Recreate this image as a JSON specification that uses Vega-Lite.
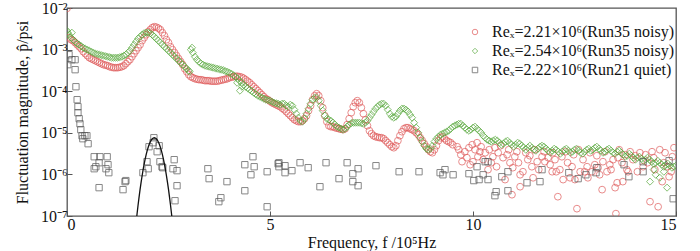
{
 "$schema": "https://vega.github.io/schema/vega-lite/v6.json",
 "width": 609,
 "height": 208,
 "autosize": "none",
 "padding": {"left": 67, "top": 8, "right": 24, "bottom": 35},
 "background": "white",
 "config": {
  "font": "Liberation Serif",
  "view": {"stroke": "#555555", "strokeWidth": 1.3},
  "axis": {"grid": false, "domain": false, "tickColor": "#555555", "tickSize": -5, "labelFont": "Liberation Serif", "labelFontSize": 16, "labelColor": "#111111", "titleFont": "Liberation Serif", "titleFontSize": 16, "titleFontWeight": "normal", "titleColor": "#111111"},
  "legend": {"labelFont": "Liberation Serif", "labelFontSize": 16, "labelColor": "#111111", "labelLimit": 0}
 },
 "datasets": {
  "red": [
   {"f":0.00,"p":9.8e-3},{"f":0.05,"p":1.93e-3},{"f":0.10,"p":1.73e-3},{"f":0.15,"p":1.64e-3},{"f":0.20,"p":1.47e-3},{"f":0.25,"p":1.31e-3},{"f":0.30,"p":1.17e-3},{"f":0.35,"p":1.05e-3},{"f":0.40,"p":8.9e-4},{"f":0.45,"p":7.97e-4},{"f":0.50,"p":7.13e-4},{"f":0.55,"p":6.39e-4},{"f":0.60,"p":6.04e-4},{"f":0.65,"p":5.72e-4},{"f":0.70,"p":5.41e-4},{"f":0.75,"p":5.12e-4},{"f":0.80,"p":4.84e-4},{"f":0.85,"p":4.58e-4},{"f":0.90,"p":4.34e-4},{"f":0.95,"p":4.22e-4},
   {"f":1.00,"p":4.10e-4},{"f":1.05,"p":3.88e-4},{"f":1.10,"p":3.77e-4},{"f":1.15,"p":3.67e-4},{"f":1.20,"p":3.67e-4},{"f":1.25,"p":3.67e-4},{"f":1.30,"p":3.77e-4},{"f":1.35,"p":3.88e-4},{"f":1.40,"p":4.10e-4},{"f":1.45,"p":4.58e-4},{"f":1.50,"p":5.12e-4},{"f":1.55,"p":5.72e-4},{"f":1.60,"p":6.75e-4},{"f":1.65,"p":7.97e-4},{"f":1.70,"p":9.41e-4},{"f":1.75,"p":1.11e-3},{"f":1.80,"p":1.31e-3},{"f":1.85,"p":1.64e-3},{"f":1.90,"p":1.93e-3},{"f":1.95,"p":2.28e-3},
   {"f":2.00,"p":2.69e-3},{"f":2.05,"p":3.01e-3},{"f":2.10,"p":3.36e-3},{"f":2.15,"p":3.55e-3},{"f":2.20,"p":3.46e-3},{"f":2.25,"p":3.27e-3},{"f":2.30,"p":3.01e-3},{"f":2.35,"p":2.55e-3},{"f":2.40,"p":2.16e-3},{"f":2.45,"p":1.73e-3},{"f":2.50,"p":1.47e-3},{"f":2.55,"p":1.17e-3},{"f":2.60,"p":9.95e-4},{"f":2.65,"p":8.42e-4},{"f":2.70,"p":7.13e-4},{"f":2.75,"p":6.04e-4},{"f":2.80,"p":5.12e-4},{"f":2.85,"p":4.34e-4},{"f":2.90,"p":3.47e-4},{"f":2.95,"p":2.94e-4},
   {"f":3.00,"p":2.49e-4},{"f":3.05,"p":2.23e-4},{"f":3.10,"p":2.11e-4},{"f":3.15,"p":2.00e-4},{"f":3.20,"p":1.94e-4},{"f":3.25,"p":1.89e-4},{"f":3.30,"p":1.89e-4},{"f":3.35,"p":1.84e-4},{"f":3.40,"p":1.79e-4},{"f":3.45,"p":1.79e-4},{"f":3.50,"p":1.79e-4},{"f":3.55,"p":1.74e-4},{"f":3.60,"p":1.74e-4},{"f":3.65,"p":1.74e-4},{"f":3.70,"p":1.74e-4},{"f":3.75,"p":1.79e-4},{"f":3.80,"p":1.84e-4},{"f":3.85,"p":1.89e-4},{"f":3.90,"p":1.94e-4},{"f":3.95,"p":2.00e-4},
   {"f":4.00,"p":2.11e-4},{"f":4.05,"p":2.17e-4},{"f":4.10,"p":2.23e-4},{"f":4.15,"p":2.29e-4},{"f":4.20,"p":2.29e-4},{"f":4.25,"p":2.23e-4},{"f":4.30,"p":2.17e-4},{"f":4.35,"p":2.05e-4},{"f":4.40,"p":1.89e-4},{"f":4.45,"p":1.74e-4},{"f":4.50,"p":1.60e-4},{"f":4.55,"p":1.43e-4},{"f":4.60,"p":1.28e-4},{"f":4.65,"p":1.15e-4},{"f":4.70,"p":1.03e-4},{"f":4.75,"p":9.2e-5},{"f":4.80,"p":8.23e-5},{"f":4.85,"p":7.38e-5},{"f":4.90,"p":6.6e-5},{"f":4.95,"p":6.25e-5},
   {"f":5.00,"p":5.75e-5},{"f":5.05,"p":5.29e-5},{"f":5.10,"p":5.01e-5},{"f":5.15,"p":4.74e-5},{"f":5.20,"p":4.48e-5},{"f":5.25,"p":4.24e-5},{"f":5.30,"p":3.90e-5},{"f":5.35,"p":3.59e-5},{"f":5.40,"p":3.22e-5},{"f":5.45,"p":2.88e-5},{"f":5.50,"p":2.58e-5},{"f":5.55,"p":2.31e-5},{"f":5.60,"p":2.07e-5},{"f":5.65,"p":1.95e-5},{"f":5.70,"p":1.85e-5},{"f":5.75,"p":1.85e-5},{"f":5.80,"p":1.95e-5},{"f":5.85,"p":2.18e-5},{"f":5.90,"p":2.58e-5},{"f":5.95,"p":3.40e-5},
   {"f":6.00,"p":4.48e-5},{"f":6.05,"p":6.25e-5},{"f":6.10,"p":7.79e-5},{"f":6.15,"p":8.7e-5},{"f":6.20,"p":7.79e-5},{"f":6.25,"p":5.91e-5},{"f":6.30,"p":4.01e-5},{"f":6.35,"p":2.58e-5},{"f":6.40,"p":1.85e-5},{"f":6.45,"p":1.48e-5},{"f":6.50,"p":1.40e-5},{"f":6.55,"p":1.40e-5},{"f":6.60,"p":1.33e-5},{"f":6.65,"p":1.29e-5},{"f":6.70,"p":1.25e-5},{"f":6.75,"p":1.22e-5},{"f":6.80,"p":1.19e-5},{"f":6.85,"p":1.25e-5},{"f":6.90,"p":1.57e-5},{"f":6.95,"p":2.18e-5},
   {"f":7.00,"p":3.04e-5},{"f":7.05,"p":4.24e-5},{"f":7.10,"p":5.29e-5},{"f":7.15,"p":5.91e-5},{"f":7.20,"p":5.29e-5},{"f":7.25,"p":4.01e-5},{"f":7.30,"p":2.88e-5},{"f":7.35,"p":2.07e-5},{"f":7.40,"p":1.48e-5},{"f":7.45,"p":1.12e-5},{"f":7.50,"p":9.51e-6},{"f":7.55,"p":8.52e-6},{"f":7.60,"p":8.06e-6},{"f":7.65,"p":7.84e-6},{"f":7.70,"p":7.62e-6},{"f":7.75,"p":7.62e-6},{"f":7.80,"p":7.21e-6},{"f":7.85,"p":6.46e-6},{"f":7.90,"p":5.78e-6},{"f":7.95,"p":5.17e-6},
   {"f":8.00,"p":4.63e-6},{"f":8.05,"p":4.38e-6},{"f":8.10,"p":4.89e-6},{"f":8.15,"p":6.46e-6},{"f":8.20,"p":8.52e-6},{"f":8.25,"p":1.06e-5},{"f":8.30,"p":1.25e-5},{"f":8.35,"p":1.33e-5},{"f":8.40,"p":1.33e-5},{"f":8.45,"p":1.25e-5},{"f":8.50,"p":1.19e-5},{"f":8.55,"p":1.12e-5},{"f":8.60,"p":1.005e-5},{"f":8.65,"p":9.0e-6},{"f":8.70,"p":7.62e-6},{"f":8.75,"p":6.46e-6},{"f":8.80,"p":5.47e-6},{"f":8.85,"p":4.63e-6},{"f":8.90,"p":3.92e-6},{"f":8.95,"p":3.51e-6},
   {"f":9.00,"p":3.32e-6},{"f":9.05,"p":3.92e-6},{"f":9.10,"p":4.89e-6},{"f":9.15,"p":6.46e-6},{"f":9.20,"p":7.62e-6},{"f":9.25,"p":8.06e-6},{"f":9.30,"p":7.21e-6},{"f":9.35,"p":6.46e-6},{"f":9.40,"p":6.11e-6},{"f":9.45,"p":5.78e-6},{"f":9.50,"p":5.17e-6},
   {"f":9.61,"p":4.63e-6},{"f":9.73,"p":2.02e-6},{"f":9.85,"p":2.52e-6},{"f":9.80,"p":3.51e-6},{"f":9.93,"p":1.71e-6},{"f":9.98,"p":5.17e-6},{"f":10.10,"p":5.78e-6},{"f":10.17,"p":3.51e-6},{"f":10.00,"p":2.02e-6},{"f":10.12,"p":2.66e-6},{"f":10.30,"p":3.32e-6},{"f":10.37,"p":1.30e-6},{"f":10.49,"p":2.66e-6},{"f":10.54,"p":4.38e-6},{"f":10.62,"p":3.32e-6},{"f":10.74,"p":2.52e-6},{"f":10.84,"p":2.97e-6},{"f":10.91,"p":1.91e-6},{"f":10.79,"p":7.5e-7},{"f":10.96,"p":3.25e-7},
   {"f":11.03,"p":2.66e-6},{"f":11.16,"p":9.8e-7},{"f":11.16,"p":5.06e-7},{"f":11.23,"p":1.16e-6},{"f":11.35,"p":2.26e-6},{"f":11.45,"p":1.53e-6},{"f":11.48,"p":8.3e-7},{"f":11.58,"p":2.02e-6},{"f":11.70,"p":2.66e-6},{"f":11.77,"p":2.02e-6},{"f":11.85,"p":2.52e-6},{"f":11.95,"p":1.16e-6},{"f":11.97,"p":3.32e-6},{"f":12.09,"p":2.91e-7},{"f":12.14,"p":1.30e-6},{"f":12.19,"p":2.66e-6},{"f":12.22,"p":7.5e-7},{"f":12.39,"p":8.3e-7},{"f":12.44,"p":1.53e-6},{"f":12.51,"p":7.5e-7},
   {"f":12.56,"p":1.5e-7},{"f":12.64,"p":1.16e-6},{"f":12.71,"p":2.26e-6},{"f":12.81,"p":1.53e-6},{"f":12.83,"p":8.3e-7},{"f":12.93,"p":1.16e-6},{"f":13.00,"p":1.71e-6},{"f":13.08,"p":1.45e-6},{"f":13.18,"p":4.3e-7},{"f":13.20,"p":2.02e-6},{"f":13.30,"p":1.16e-6},{"f":13.37,"p":1.71e-6},{"f":13.45,"p":2.26e-6},{"f":13.50,"p":4.8e-7},{"f":13.55,"p":6.3e-7},{"f":13.52,"p":1.14e-7},{"f":13.57,"p":2.52e-6},{"f":13.67,"p":1.91e-6},{"f":13.69,"p":6.7e-7},{"f":13.79,"p":1.30e-6},
   {"f":13.87,"p":3.51e-6},{"f":13.94,"p":2.26e-6},{"f":14.11,"p":3.32e-6},{"f":14.19,"p":1.53e-6},{"f":14.36,"p":2.21e-7},{"f":14.41,"p":3.51e-6},{"f":14.48,"p":1.30e-6},{"f":14.56,"p":1.67e-7},{"f":14.66,"p":6.7e-7},{"f":14.73,"p":3.32e-6},{"f":14.78,"p":1.53e-6},{"f":14.83,"p":8.8e-7},{"f":14.91,"p":2.66e-6},
   {"f":9.65,"p":3.92e-6},{"f":9.70,"p":2.97e-6},{"f":9.90,"p":4.38e-6},{"f":10.05,"p":3.92e-6},{"f":10.20,"p":4.63e-6},{"f":10.25,"p":2.26e-6},{"f":10.40,"p":3.92e-6},{"f":10.45,"p":1.91e-6},{"f":10.58,"p":1.53e-6},{"f":10.68,"p":4.89e-6},{"f":10.88,"p":3.92e-6},{"f":10.98,"p":1.45e-6},{"f":11.08,"p":3.51e-6},{"f":11.12,"p":1.91e-6},{"f":11.30,"p":3.32e-6},{"f":11.40,"p":2.81e-6},{"f":11.52,"p":3.92e-6},{"f":11.62,"p":1.30e-6},{"f":11.75,"p":3.51e-6},{"f":11.90,"p":1.71e-6},
   {"f":12.02,"p":2.26e-6},{"f":12.05,"p":1.16e-6},{"f":12.28,"p":3.51e-6},{"f":12.33,"p":1.91e-6},{"f":12.48,"p":2.97e-6},{"f":12.60,"p":3.92e-6},{"f":12.75,"p":1.16e-6},{"f":12.88,"p":3.32e-6},{"f":13.05,"p":2.81e-6},{"f":13.12,"p":9.8e-7},{"f":13.25,"p":3.51e-6},{"f":13.40,"p":1.30e-6},{"f":13.60,"p":3.92e-6},{"f":13.75,"p":2.97e-6},{"f":13.82,"p":1.16e-6},{"f":14.00,"p":2.81e-6},{"f":14.05,"p":1.16e-6},{"f":14.25,"p":2.97e-6},{"f":14.30,"p":1.91e-6},{"f":14.45,"p":2.52e-6},
   {"f":14.60,"p":3.92e-6},{"f":14.70,"p":1.91e-6},{"f":14.88,"p":1.16e-6},{"f":14.95,"p":4.38e-6}
  ],
  "green": [
   {"f":0.00,"p":2.85e-3},{"f":0.02,"p":2.55e-3},{"f":0.05,"p":2.28e-3},{"f":0.10,"p":1.93e-3},{"f":0.12,"p":2.55e-3},{"f":0.15,"p":1.73e-3},{"f":0.20,"p":1.55e-3},{"f":0.25,"p":1.39e-3},{"f":0.30,"p":1.31e-3},{"f":0.35,"p":1.21e-3},{"f":0.40,"p":1.11e-3},{"f":0.45,"p":1.05e-3},{"f":0.50,"p":9.95e-4},{"f":0.55,"p":9.41e-4},{"f":0.60,"p":8.9e-4},{"f":0.65,"p":8.42e-4},{"f":0.70,"p":7.97e-4},{"f":0.75,"p":7.75e-4},{"f":0.80,"p":7.54e-4},{"f":0.85,"p":7.33e-4},{"f":0.90,"p":7.13e-4},{"f":0.95,"p":6.94e-4},
   {"f":1.00,"p":6.75e-4},{"f":1.05,"p":6.57e-4},{"f":1.10,"p":6.39e-4},{"f":1.15,"p":6.39e-4},{"f":1.20,"p":6.39e-4},{"f":1.25,"p":6.39e-4},{"f":1.30,"p":6.57e-4},{"f":1.35,"p":6.75e-4},{"f":1.40,"p":7.13e-4},{"f":1.45,"p":7.54e-4},{"f":1.50,"p":8.42e-4},{"f":1.55,"p":9.41e-4},{"f":1.60,"p":1.11e-3},{"f":1.65,"p":1.31e-3},{"f":1.70,"p":1.55e-3},{"f":1.75,"p":1.83e-3},{"f":1.80,"p":2.04e-3},{"f":1.85,"p":2.28e-3},{"f":1.90,"p":2.48e-3},{"f":1.95,"p":2.55e-3},
   {"f":2.00,"p":2.55e-3},{"f":2.05,"p":2.48e-3},{"f":2.10,"p":2.28e-3},{"f":2.15,"p":2.04e-3},{"f":2.20,"p":1.83e-3},{"f":2.25,"p":1.64e-3},{"f":2.30,"p":1.47e-3},{"f":2.35,"p":1.31e-3},{"f":2.40,"p":1.17e-3},{"f":2.45,"p":1.05e-3},{"f":2.50,"p":9.41e-4},{"f":2.55,"p":8.42e-4},{"f":2.60,"p":7.54e-4},{"f":2.65,"p":6.75e-4},{"f":2.70,"p":6.04e-4},{"f":2.75,"p":5.41e-4},{"f":2.80,"p":4.84e-4},{"f":2.85,"p":4.34e-4},{"f":2.90,"p":3.88e-4},{"f":2.95,"p":3.47e-4},
   {"f":3.00,"p":3.11e-4},{"f":3.02,"p":2.94e-4},{"f":3.05,"p":9.95e-4},{"f":3.08,"p":1.11e-3},{"f":3.10,"p":8.42e-4},{"f":3.15,"p":6.75e-4},{"f":3.20,"p":5.72e-4},{"f":3.25,"p":5.12e-4},{"f":3.30,"p":4.58e-4},{"f":3.35,"p":4.34e-4},{"f":3.40,"p":4.10e-4},{"f":3.45,"p":3.99e-4},{"f":3.50,"p":3.88e-4},{"f":3.55,"p":3.77e-4},{"f":3.60,"p":3.67e-4},{"f":3.65,"p":3.57e-4},{"f":3.70,"p":3.47e-4},{"f":3.75,"p":3.38e-4},{"f":3.80,"p":3.29e-4},{"f":3.85,"p":3.20e-4},{"f":3.90,"p":3.03e-4},{"f":3.95,"p":2.94e-4},
   {"f":4.00,"p":2.78e-4},{"f":4.05,"p":2.63e-4},{"f":4.10,"p":2.42e-4},{"f":4.15,"p":2.23e-4},{"f":4.19,"p":1.60e-4},{"f":4.20,"p":2.00e-4},{"f":4.25,"p":1.79e-4},{"f":4.26,"p":1.03e-4},{"f":4.30,"p":1.60e-4},{"f":4.31,"p":1.28e-4},{"f":4.35,"p":1.43e-4},{"f":4.40,"p":1.28e-4},{"f":4.45,"p":1.18e-4},{"f":4.50,"p":1.09e-4},{"f":4.55,"p":9.99e-5},{"f":4.60,"p":9.2e-5},{"f":4.65,"p":8.47e-5},{"f":4.70,"p":7.79e-5},{"f":4.75,"p":7.38e-5},{"f":4.80,"p":6.98e-5},{"f":4.85,"p":6.6e-5},{"f":4.90,"p":6.25e-5},{"f":4.95,"p":6.08e-5},
   {"f":5.00,"p":5.91e-5},{"f":5.05,"p":5.59e-5},{"f":5.10,"p":5.29e-5},{"f":5.15,"p":5.14e-5},{"f":5.20,"p":5.01e-5},{"f":5.25,"p":4.74e-5},{"f":5.30,"p":5.01e-5},{"f":5.35,"p":5.01e-5},{"f":5.40,"p":4.48e-5},{"f":5.45,"p":4.24e-5},{"f":5.50,"p":4.74e-5},{"f":5.55,"p":4.48e-5},{"f":5.60,"p":3.59e-5},{"f":5.65,"p":2.88e-5},{"f":5.70,"p":2.31e-5},{"f":5.75,"p":1.95e-5},{"f":5.80,"p":1.85e-5},{"f":5.85,"p":2.18e-5},{"f":5.90,"p":2.88e-5},{"f":5.95,"p":3.80e-5},
   {"f":6.00,"p":5.01e-5},{"f":6.05,"p":6.25e-5},{"f":6.10,"p":6.98e-5},{"f":6.15,"p":6.98e-5},{"f":6.20,"p":5.91e-5},{"f":6.25,"p":4.48e-5},{"f":6.30,"p":3.40e-5},{"f":6.35,"p":2.58e-5},{"f":6.40,"p":2.18e-5},{"f":6.45,"p":2.07e-5},{"f":6.50,"p":1.95e-5},{"f":6.55,"p":1.75e-5},{"f":6.60,"p":1.57e-5},{"f":6.65,"p":1.40e-5},{"f":6.70,"p":1.33e-5},{"f":6.75,"p":1.25e-5},{"f":6.80,"p":1.19e-5},{"f":6.85,"p":1.25e-5},{"f":6.90,"p":1.40e-5},{"f":6.95,"p":1.57e-5},
   {"f":7.00,"p":1.70e-5},{"f":7.05,"p":1.75e-5},{"f":7.10,"p":1.75e-5},{"f":7.15,"p":1.75e-5},{"f":7.20,"p":1.75e-5},{"f":7.25,"p":1.70e-5},{"f":7.30,"p":1.65e-5},{"f":7.35,"p":1.75e-5},{"f":7.40,"p":1.95e-5},{"f":7.45,"p":2.31e-5},{"f":7.50,"p":2.72e-5},{"f":7.55,"p":3.22e-5},{"f":7.60,"p":3.80e-5},{"f":7.65,"p":4.24e-5},{"f":7.70,"p":4.74e-5},{"f":7.75,"p":5.01e-5},{"f":7.80,"p":5.01e-5},{"f":7.85,"p":4.48e-5},{"f":7.90,"p":3.59e-5},{"f":7.95,"p":2.88e-5},
   {"f":8.00,"p":2.44e-5},{"f":8.05,"p":2.31e-5},{"f":8.10,"p":2.44e-5},{"f":8.15,"p":2.88e-5},{"f":8.20,"p":3.40e-5},{"f":8.25,"p":3.80e-5},{"f":8.30,"p":3.80e-5},{"f":8.35,"p":3.59e-5},{"f":8.40,"p":3.22e-5},{"f":8.45,"p":2.72e-5},{"f":8.50,"p":2.31e-5},{"f":8.55,"p":1.75e-5},{"f":8.60,"p":1.33e-5},{"f":8.65,"p":1.005e-5},{"f":8.70,"p":7.62e-6},{"f":8.75,"p":6.11e-6},{"f":8.80,"p":4.89e-6},{"f":8.85,"p":4.15e-6},{"f":8.90,"p":3.92e-6},{"f":8.95,"p":4.15e-6},
   {"f":9.00,"p":4.89e-6},{"f":9.05,"p":6.11e-6},{"f":9.10,"p":7.21e-6},{"f":9.15,"p":8.06e-6},{"f":9.20,"p":9.00e-6},{"f":9.25,"p":9.51e-6},{"f":9.30,"p":1.005e-5},{"f":9.35,"p":1.06e-5},{"f":9.40,"p":1.12e-5},{"f":9.45,"p":1.25e-5},{"f":9.50,"p":1.40e-5},{"f":9.55,"p":1.48e-5},{"f":9.60,"p":1.57e-5},{"f":9.65,"p":1.65e-5},{"f":9.70,"p":1.65e-5},{"f":9.75,"p":1.48e-5},{"f":9.80,"p":1.33e-5},{"f":9.85,"p":1.19e-5},{"f":9.90,"p":1.12e-5},{"f":9.95,"p":1.19e-5},
   {"f":10.00,"p":1.33e-5},{"f":10.05,"p":1.40e-5},{"f":10.10,"p":1.25e-5},{"f":10.15,"p":1.12e-5},{"f":10.20,"p":1.005e-5},{"f":10.25,"p":8.52e-6},{"f":10.30,"p":7.62e-6},{"f":10.35,"p":6.82e-6},{"f":10.40,"p":6.46e-6},{"f":10.45,"p":6.11e-6},{"f":10.50,"p":6.46e-6},{"f":10.55,"p":6.82e-6},{"f":10.60,"p":6.46e-6},{"f":10.65,"p":5.78e-6},{"f":10.70,"p":5.17e-6},{"f":10.75,"p":5.47e-6},{"f":10.80,"p":6.11e-6},{"f":10.85,"p":6.46e-6},{"f":10.90,"p":5.78e-6},{"f":10.95,"p":5.17e-6},
   {"f":11.00,"p":4.63e-6},{"f":11.05,"p":5.17e-6},{"f":11.10,"p":5.78e-6},{"f":11.15,"p":5.47e-6},{"f":11.20,"p":4.89e-6},{"f":11.25,"p":4.38e-6},{"f":11.30,"p":3.92e-6},{"f":11.35,"p":4.38e-6},{"f":11.40,"p":4.89e-6},{"f":11.45,"p":4.38e-6},{"f":11.50,"p":3.92e-6},{"f":11.55,"p":3.71e-6},{"f":11.60,"p":4.15e-6},{"f":11.65,"p":4.63e-6},{"f":11.70,"p":4.89e-6},{"f":11.75,"p":4.63e-6},{"f":11.80,"p":4.15e-6},{"f":11.85,"p":3.71e-6},{"f":11.90,"p":3.32e-6},{"f":11.95,"p":3.71e-6},
   {"f":12.00,"p":4.15e-6},{"f":12.05,"p":3.92e-6},{"f":12.10,"p":3.51e-6},{"f":12.15,"p":3.14e-6},{"f":12.20,"p":3.51e-6},{"f":12.25,"p":3.92e-6},{"f":12.30,"p":4.15e-6},{"f":12.35,"p":3.71e-6},{"f":12.40,"p":3.32e-6},{"f":12.45,"p":3.51e-6},{"f":12.50,"p":3.92e-6},{"f":12.55,"p":4.15e-6},{"f":12.60,"p":3.71e-6},{"f":12.65,"p":3.32e-6},{"f":12.70,"p":3.14e-6},{"f":12.75,"p":3.51e-6},{"f":12.80,"p":3.92e-6},{"f":12.85,"p":4.15e-6},{"f":12.90,"p":3.71e-6},{"f":12.95,"p":3.92e-6},
   {"f":13.00,"p":4.38e-6},{"f":13.05,"p":4.63e-6},{"f":13.10,"p":4.15e-6},{"f":13.15,"p":3.71e-6},{"f":13.20,"p":3.32e-6},{"f":13.25,"p":3.51e-6},{"f":13.30,"p":3.92e-6},{"f":13.35,"p":4.15e-6},{"f":13.40,"p":3.71e-6},{"f":13.45,"p":3.32e-6},{"f":13.50,"p":3.14e-6},{"f":13.55,"p":3.51e-6},{"f":13.60,"p":3.71e-6},{"f":13.65,"p":3.32e-6},{"f":13.70,"p":2.97e-6},{"f":13.75,"p":2.66e-6},{"f":13.80,"p":2.81e-6},{"f":13.85,"p":3.14e-6},{"f":13.90,"p":2.81e-6},{"f":13.95,"p":2.52e-6},
   {"f":14.00,"p":2.26e-6},{"f":14.05,"p":2.52e-6},{"f":14.10,"p":2.66e-6},{"f":14.15,"p":2.38e-6},{"f":14.20,"p":2.13e-6},{"f":14.25,"p":2.26e-6},{"f":14.30,"p":2.52e-6},{"f":14.35,"p":2.26e-6},{"f":14.40,"p":2.02e-6},{"f":14.45,"p":1.81e-6},{"f":14.50,"p":1.91e-6},{"f":14.55,"p":2.13e-6},{"f":14.60,"p":1.91e-6},{"f":14.65,"p":1.71e-6},{"f":14.70,"p":1.53e-6},{"f":14.75,"p":1.71e-6},{"f":14.80,"p":1.81e-6},{"f":14.85,"p":1.62e-6},{"f":14.90,"p":1.45e-6},{"f":14.95,"p":1.53e-6},{"f":15.00,"p":1.62e-6},
   {"f":14.36,"p":6.7e-7},{"f":14.50,"p":9.8e-7},{"f":14.70,"p":1.16e-6},{"f":14.78,"p":4.8e-7},{"f":14.60,"p":8.3e-7},{"f":14.45,"p":1.30e-6}
  ],
  "gray": [
   {"f":0.02,"p":4.34e-4},{"f":0.05,"p":7.54e-4},{"f":0.12,"p":5.72e-4},{"f":0.20,"p":5.72e-4},{"f":0.20,"p":3.29e-4},{"f":0.22,"p":1.28e-4},{"f":0.25,"p":6.25e-5},{"f":0.27,"p":4.24e-5},{"f":0.27,"p":3.04e-5},{"f":0.30,"p":2.18e-5},{"f":0.32,"p":1.65e-5},{"f":0.34,"p":1.19e-5},{"f":0.37,"p":8.52e-6},{"f":0.39,"p":7.21e-6},{"f":0.44,"p":8.52e-6},{"f":0.49,"p":8.52e-6},{"f":0.52,"p":5.47e-6},{"f":0.67,"p":2.66e-6},{"f":0.81,"p":2.66e-6},{"f":0.99,"p":2.66e-6},
   {"f":0.71,"p":1.53e-6},{"f":0.67,"p":1.37e-6},{"f":0.79,"p":1.91e-6},{"f":0.96,"p":1.37e-6},{"f":1.01,"p":1.71e-6},{"f":1.03,"p":1.1e-6},{"f":0.79,"p":4.8e-7},{"f":1.45,"p":7.1e-7},{"f":1.43,"p":6.7e-7},{"f":1.38,"p":4.3e-7},{"f":1.87,"p":1.1e-6},{"f":2.00,"p":1.37e-6},{"f":1.97,"p":2.02e-6},{"f":2.02,"p":4.63e-6},{"f":2.14,"p":7.62e-6},{"f":2.12,"p":5.78e-6},{"f":2.22,"p":3.51e-6},{"f":2.27,"p":4.89e-6},{"f":2.29,"p":2.02e-6},{"f":2.34,"p":1.53e-6},
   {"f":2.36,"p":1.45e-6},{"f":2.64,"p":2.26e-6},{"f":2.61,"p":1.37e-6},{"f":2.71,"p":1.23e-6},{"f":2.71,"p":5.35e-7},{"f":2.66,"p":2.33e-7},{"f":3.47,"p":1.37e-6},{"f":3.50,"p":7.9e-7},{"f":3.94,"p":6.7e-7},{"f":3.79,"p":2.75e-7},{"f":3.74,"p":2.21e-7},{"f":4.38,"p":1.71e-6},{"f":4.58,"p":2.66e-6},{"f":4.61,"p":1.53e-6},{"f":4.53,"p":9.8e-7},{"f":4.38,"p":4.05e-7},{"f":4.93,"p":1.16e-6},{"f":4.93,"p":1.67e-7},{"f":5.20,"p":1.81e-6},{"f":5.22,"p":1.91e-6},
   {"f":5.37,"p":1.62e-6},{"f":5.22,"p":1.53e-6},{"f":5.37,"p":1.1e-6},{"f":5.54,"p":1.23e-6},{"f":5.74,"p":1.91e-6},{"f":5.94,"p":1.45e-6},{"f":6.38,"p":1.91e-6},{"f":6.23,"p":5.06e-7},{"f":6.70,"p":7.9e-7},{"f":6.90,"p":1.91e-6},{"f":7.17,"p":1.37e-6},{"f":7.04,"p":1.04e-6},{"f":7.04,"p":6.7e-7},{"f":7.17,"p":5.35e-7},{"f":7.61,"p":1.62e-6},{"f":8.18,"p":1.16e-6},{"f":8.67,"p":1.16e-6},{"f":9.19,"p":1.1e-6},{"f":9.26,"p":9.8e-7},{"f":9.31,"p":1.3e-6},
   {"f":9.51,"p":9.8e-7},{"f":9.90,"p":1.04e-6},{"f":10.02,"p":7.1e-7},{"f":10.10,"p":1.53e-6},{"f":10.15,"p":7.5e-7},{"f":10.30,"p":2.02e-6},{"f":10.37,"p":2.02e-6},{"f":10.25,"p":9.8e-7},{"f":10.37,"p":7.5e-7},{"f":10.71,"p":8.8e-7},{"f":10.86,"p":1.16e-6},{"f":10.86,"p":4.05e-7},{"f":10.57,"p":3.84e-7},{"f":10.54,"p":3.08e-7},{"f":11.33,"p":6.3e-7},{"f":11.70,"p":1.3e-6},{"f":11.65,"p":6.7e-7},{"f":12.36,"p":1.1e-6},{"f":12.59,"p":7.9e-7},{"f":12.78,"p":9.8e-7},
   {"f":13.05,"p":1.45e-6},{"f":13.03,"p":1.1e-6},{"f":13.72,"p":1.71e-6},{"f":13.84,"p":8.8e-7},{"f":14.19,"p":2.02e-6},{"f":14.19,"p":1.16e-6},{"f":14.83,"p":2.13e-6},{"f":14.93,"p":2.6e-7}
  ],
  "fit": [
   {"f":1.650,"p":2.2e-8},{"f":1.675,"p":3.9e-8},{"f":1.700,"p":6.7e-8},{"f":1.725,"p":1.12e-7},{"f":1.750,"p":1.81e-7},{"f":1.775,"p":2.84e-7},{"f":1.800,"p":4.35e-7},{"f":1.825,"p":6.44e-7},{"f":1.850,"p":9.27e-7},{"f":1.875,"p":1.30e-6},{"f":1.900,"p":1.76e-6},{"f":1.925,"p":2.33e-6},{"f":1.950,"p":2.98e-6},{"f":1.975,"p":3.72e-6},{"f":2.000,"p":4.49e-6},{"f":2.025,"p":5.28e-6},{"f":2.050,"p":6.01e-6},{"f":2.075,"p":6.67e-6},{"f":2.100,"p":7.17e-6},{"f":2.125,"p":7.49e-6},{"f":2.150,"p":7.6e-6},
   {"f":2.175,"p":7.49e-6},{"f":2.200,"p":7.17e-6},{"f":2.225,"p":6.67e-6},{"f":2.250,"p":6.01e-6},{"f":2.275,"p":5.28e-6},{"f":2.300,"p":4.49e-6},{"f":2.325,"p":3.72e-6},{"f":2.350,"p":2.98e-6},{"f":2.375,"p":2.33e-6},{"f":2.400,"p":1.76e-6},{"f":2.425,"p":1.30e-6},{"f":2.450,"p":9.27e-7},{"f":2.475,"p":6.44e-7},{"f":2.500,"p":4.35e-7},{"f":2.525,"p":2.84e-7},{"f":2.550,"p":1.81e-7},{"f":2.575,"p":1.12e-7},{"f":2.600,"p":6.7e-8},{"f":2.625,"p":3.9e-8},{"f":2.650,"p":2.2e-8}
  ]
 },
 "encoding": {
  "x": {"field": "f", "type": "quantitative", "scale": {"domain": [0, 15], "nice": false, "zero": false},
        "axis": {"values": [0, 5, 10, 15], "title": "Frequency, f /10⁵Hz", "titlePadding": 2, "labelPadding": 5}},
  "y": {"field": "p", "type": "quantitative", "scale": {"type": "log", "domain": [1e-7, 1e-2], "nice": false},
        "axis": {"values": [1e-7, 1e-6, 1e-5, 1e-4, 1e-3, 1e-2], "labelExpr": "['10⁻⁷','10⁻⁶','10⁻⁵','10⁻⁴','10⁻³','10⁻²'][round(log(datum.value)/LN10)+7]", "title": "Fluctuation magnitude, p̂/psi", "titlePadding": 10, "labelPadding": 5}}
 },
 "layer": [
  {"data": {"name": "red"}, "mark": {"type": "point", "filled": false, "size": 46, "strokeWidth": 1, "clip": true},
   "encoding": {"color": {"datum": "Reₓ=2.21×10⁶(Run35 noisy)", "type": "nominal", "scale": {"domain": ["Reₓ=2.21×10⁶(Run35 noisy)", "Reₓ=2.54×10⁶(Run35 noisy)", "Reₓ=2.22×10⁶(Run21 quiet)"], "range": ["#e05a5a", "#56a83a", "#555555"]},
      "legend": {"orient": "none", "legendX": 400, "legendY": 16, "title": null, "symbolSize": 30, "symbolStrokeWidth": 1, "rowPadding": 3, "labelOffset": 9}},
     "shape": {"datum": "Reₓ=2.21×10⁶(Run35 noisy)", "type": "nominal", "scale": {"domain": ["Reₓ=2.21×10⁶(Run35 noisy)", "Reₓ=2.54×10⁶(Run35 noisy)", "Reₓ=2.22×10⁶(Run21 quiet)"], "range": ["circle", "diamond", "square"]}}}},
  {"data": {"name": "green"}, "mark": {"type": "point", "filled": false, "size": 50, "strokeWidth": 1, "clip": true},
   "encoding": {"color": {"datum": "Reₓ=2.54×10⁶(Run35 noisy)", "type": "nominal"}, "shape": {"datum": "Reₓ=2.54×10⁶(Run35 noisy)", "type": "nominal"}}},
  {"data": {"name": "gray"}, "mark": {"type": "point", "filled": false, "size": 40, "strokeWidth": 1, "clip": true},
   "encoding": {"color": {"datum": "Reₓ=2.22×10⁶(Run21 quiet)", "type": "nominal"}, "shape": {"datum": "Reₓ=2.22×10⁶(Run21 quiet)", "type": "nominal"}}},
  {"data": {"name": "fit"}, "mark": {"type": "line", "color": "#111111", "strokeWidth": 1.3, "clip": true}, "encoding": {}}
 ]
}
